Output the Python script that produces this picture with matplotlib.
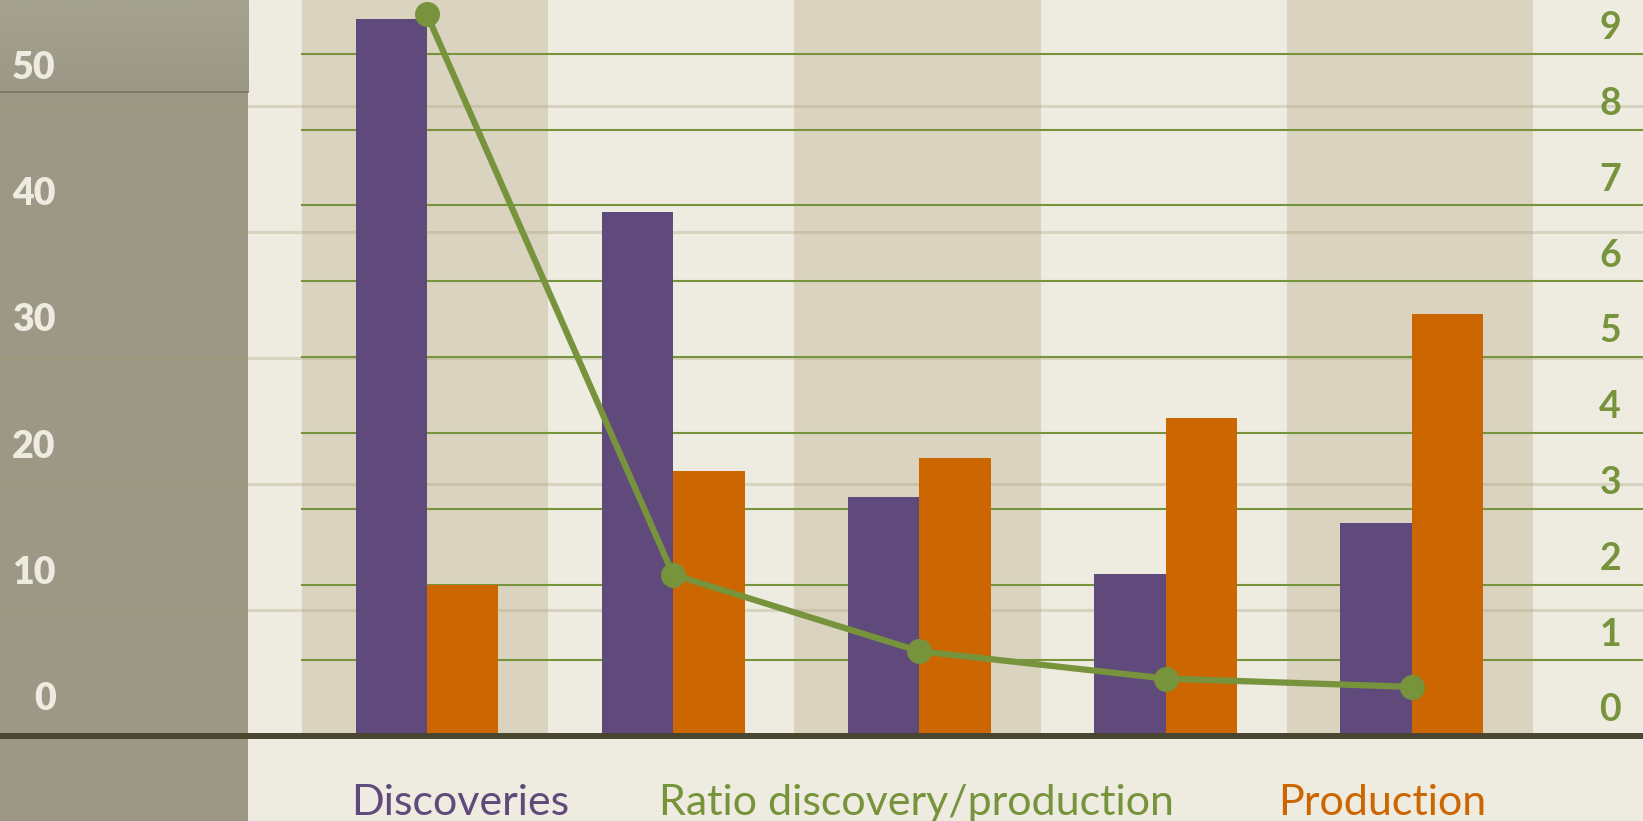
#!/usr/bin/env python3

import numpy as np
import matplotlib.pyplot as plt
from matplotlib.patches import Rectangle

# data
categories = ["1", "2", "3", "4", "5"]
discoveries = [56.9, 41.6, 19.0, 12.9, 16.9]
production = [12.0, 21.0, 22.1, 25.2, 33.5]
ratio = [9.52, 2.13, 1.12, 0.76, 0.65]

left_ticks = [0, 10, 20, 30, 40, 50]
right_ticks = [0, 1, 2, 3, 4, 5, 6, 7, 8, 9]
legend_names = ["Discoveries", "Ratio discovery/production", "Production"]

PURPLE = "#604a7b"
ORANGE = "#cc6600"
GREEN = "#77933c"
CREAM = "#eeece1"
BAND = "#d9d3bf"
PANEL = "#9d9786"
BASE = "#4a4530"

plt.rcParams['font.family'] = ['Lato', 'DejaVu Sans']


def main():
    fig = plt.figure(figsize=(16.43, 8.21), dpi=100)
    fig.patch.set_facecolor(CREAM)
    ax = fig.add_axes([0, 0, 1, 1])
    ax.set_facecolor(CREAM)
    ax.set_xlim(-1.726, 4.947)
    ax.set_ylim(-6.73, 58.39)
    for s in ax.spines.values():
        s.set_visible(False)
    ax.set_xticks([])
    ax.set_yticks([])

    x = np.arange(len(categories))

    # alternating bands, above the baseline only
    for i in x[::2]:
        ax.add_patch(Rectangle((i - 0.5, 0), 1, 60, color=BAND, lw=0, zorder=0.5))

    # grey panel on the left
    ax.add_patch(Rectangle((0, 0), 0.1511, 1, transform=ax.transAxes,
                           color=PANEL, lw=0, zorder=1))
    grad = np.linspace(0, 1, 50).reshape(-1, 1)
    ax.imshow(grad, cmap=plt.matplotlib.colors.LinearSegmentedColormap.from_list(
        "g", ["#a5a290", "#9c9786"]), extent=(0, 0.1511, 0.888, 1),
        transform=ax.transAxes, aspect='auto', zorder=1.1)
    ax.plot([0, 0.1511], [0.888, 0.888], transform=ax.transAxes,
            color="#77735f", lw=1.2, zorder=1.2)

    # faint left gridlines
    for v in left_ticks:
        ax.axhline(v, color="#a89c78", alpha=0.3, lw=2.2, zorder=1.5)

    # green right gridlines, in left-axis units
    scale = 58.39 / 9.71
    for v in right_ticks[1:]:
        ax.plot([-0.5, 4.947], [v * scale, v * scale], color=GREEN, lw=1.5, zorder=1.6)

    w = 0.29
    ax.bar(x - w / 2 + 0.008, discoveries, w, color=PURPLE, zorder=2)
    ax.bar(x + w / 2 + 0.008, production, w, color=ORANGE, zorder=2)
    ax.axhline(0, color=BASE, lw=4.3, zorder=3)

    for v in left_ticks:
        ax.annotate(str(v), xy=(0.034, v), xycoords=('axes fraction', 'data'),
                    xytext=(0, 27), textcoords='offset points', ha='right', va='center',
                    fontsize=27, fontweight='heavy', color=CREAM, zorder=5)

    ax2 = ax.twinx()
    ax2.set_ylim(-1.119, 9.71)
    for s in ax2.spines.values():
        s.set_visible(False)
    ax2.set_yticks([])
    ax2.plot(x + 0.008, ratio, color=GREEN, lw=4.5, marker='o', ms=17, zorder=4)
    for v in right_ticks:
        ax2.annotate(str(v), xy=(0.980, v), xycoords=('axes fraction', 'data'),
                     xytext=(0, 18.5), textcoords='offset points', ha='center', va='center',
                     fontsize=27, fontweight='bold', color=GREEN)

    for name, xf, c in zip(legend_names, [0.280, 0.5577, 0.841], [PURPLE, GREEN, ORANGE]):
        ax2.text(xf, 0.0077, name, transform=ax2.transAxes, ha='center', va='baseline',
                 fontsize=31, color=c)

    fig.savefig("out.png", dpi=100, facecolor=CREAM)


if __name__ == "__main__":
    main()
